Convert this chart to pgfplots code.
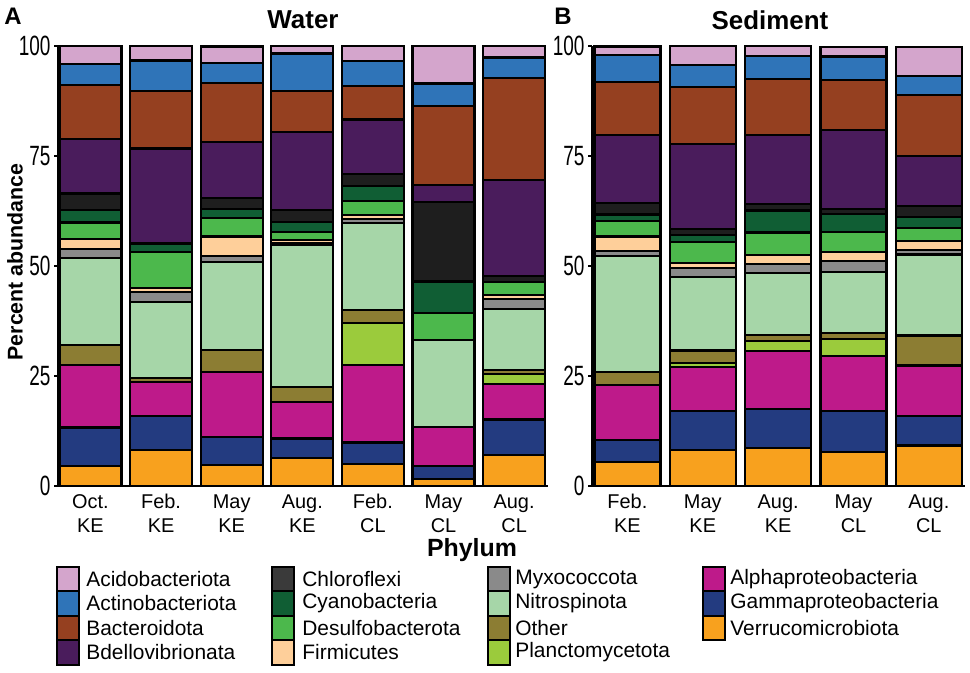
\documentclass[border=0pt]{standalone}
\usepackage{pgfplots}
\pgfplotsset{compat=1.18}
\usepackage{pgfplotstable}
\usepackage{graphicx}
\usepackage{fontspec}
\setmainfont{Liberation Sans}

% phylum colours
\definecolor{cAcido}{HTML}{D4A5CC}
\definecolor{cActino}{HTML}{2F74B8}
\definecolor{cBacter}{HTML}{954020}
\definecolor{cBdello}{HTML}{4A1C5C}
\definecolor{cChloro}{HTML}{1E1E1E}
\definecolor{cChloroKey}{HTML}{3A3A3A}
\definecolor{cCyano}{HTML}{105E34}
\definecolor{cDesulfo}{HTML}{4CB84C}
\definecolor{cFirm}{HTML}{FECF9A}
\definecolor{cMyxo}{HTML}{8A8A8A}
\definecolor{cNitro}{HTML}{A6D6A8}
\definecolor{cOther}{HTML}{8C7D33}
\definecolor{cPlanct}{HTML}{9BCB3C}
\definecolor{cAlpha}{HTML}{BE1A8A}
\definecolor{cGamma}{HTML}{233B80}
\definecolor{cVerr}{HTML}{F8A11E}

% percent abundance, bottom of the stack first
\pgfplotstableread{
x Verr Gamma Alpha Planct Other Nitro Myxo Firm Desulfo Cyano Chloro Bdello Bacter Actino Acido
0 4.5 8.8 14.2 0   4.5 19.8 2.1 2.2 3.8 2.8 3.8  12.4 12.2 4.8 4.1
1 8.2 7.7 7.8  0   0.8 17.3 2.3 0.9 8.1 2.0 0    21.6 13.0 7.0 3.3
2 4.8 6.3 14.9 0   4.9 20.1 1.3 4.4 4.2 2.1 2.4  12.7 13.5 4.6 3.7
3 6.3 4.5 8.3  0   3.4 32.2 0.6 0.6 1.8 2.3 2.8  17.6 9.3  8.6 1.7
4 5.0 4.9 17.6 9.6 2.9 19.7 0.9 1.0 3.2 3.3 2.9  12.3 7.6  5.7 3.4
5 1.6 3.0 8.9  0   0   19.7 0   0   6.1 7.2 18.0 3.9  17.9 5.2 8.5
6 7.0 8.1 8.0  2.3 1.0 13.8 2.3 1.0 2.9 0   1.3  21.8 23.3 4.6 2.6
}\water

\pgfplotstableread{
x Verr Gamma Alpha Planct Other Nitro Myxo Firm Desulfo Cyano Chloro Bdello Bacter Actino Acido
0 5.4 5.1 12.5 0   3.0 26.3 1.1 3.3 3.6 1.4 2.7 15.3 12.1 6.1 2.0
1 8.2 8.9 9.9  0.9 2.9 16.7 2.0 1.1 4.9 1.5 1.5 19.2 12.9 5.1 4.3
2 8.6 8.9 13.1 2.4 1.4 14.0 2.1 2.0 5.1 5.0 1.5 15.7 12.7 5.3 2.2
3 7.8 9.3 12.5 3.8 1.4 13.9 2.5 1.9 4.7 4.0 1.1 18.0 11.4 5.3 2.2
4 9.2 6.8 11.4 0   6.8 18.4 1.1 1.9 3.0 2.6 2.5 11.3 13.9 4.2 6.7
}\sediment

\pgfplotsset{
  abund/.style={
    ybar stacked, scale only axis, anchor=south west,
    height=220bp, ymin=0, ymax=100, ytick={0,25,50,75,100},
    axis lines*=left, axis line style={line width=1bp},
    tick align=outside, major tick length=2bp,
    xtick style={draw=none}, ytick style={line width=1bp, black},
    yticklabel={\scalebox{0.68}[1]{\pgfmathprintnumber{\tick}}},
    yticklabel style={font=\fontsize{14}{14}\selectfont, inner sep=0pt, xshift=-1.6bp},
    xticklabel style={font=\fontsize{10}{12}\selectfont, align=center, inner sep=0pt, yshift=-2bp},
    /pgf/number format/assume math mode=true,
    clip=false,
    every axis plot/.append style={draw=black, line width=1.1bp},
  },
}

\begin{document}
\begin{tikzpicture}
\path[use as bounding box] (0,0) rectangle (485bp,-336.5bp);

\begin{axis}[abund, at={(29bp,-243bp)}, width=245bp,
  xmin=-0.46, xmax=6.48, bar width=31bp, xtick={0,...,6},
  xticklabels={{Oct.\\KE},{Feb.\\KE},{May\\KE},{Aug.\\KE},{Feb.\\CL},{May\\CL},{Aug.\\CL}}]
\pgfplotsinvokeforeach{Verr,Gamma,Alpha,Planct,Other,Nitro,Myxo,Firm,Desulfo,Cyano,Chloro,Bdello,Bacter,Actino,Acido}{
  \addplot[fill=c#1] table[x=x, y=#1] {\water};
}
\end{axis}

\begin{axis}[abund, at={(296bp,-243bp)}, width=186.5bp,
  xmin=-0.47, xmax=4.48, bar width=33bp, xtick={0,...,4},
  xticklabels={{Feb.\\KE},{May\\KE},{Aug.\\KE},{May\\CL},{Aug.\\CL}}]
\pgfplotsinvokeforeach{Verr,Gamma,Alpha,Planct,Other,Nitro,Myxo,Firm,Desulfo,Cyano,Chloro,Bdello,Bacter,Actino,Acido}{
  \addplot[fill=c#1] table[x=x, y=#1] {\sediment};
}
\end{axis}

% texts and legend, in reference pixels (y downwards)
\begin{scope}[x=0.5bp, y=-0.5bp]
\node[font=\fontsize{12}{12}\selectfont\bfseries] at (13,16) {A};
\node[font=\fontsize{12}{12}\selectfont\bfseries] at (563,16) {B};
\node[font=\fontsize{13}{13}\selectfont\bfseries] at (303,20) {Water};
\node[font=\fontsize{13}{13}\selectfont\bfseries] at (770,20) {Sediment};
\node[font=\fontsize{10.7}{10.7}\selectfont\bfseries, rotate=90] at (15,262) {Percent abundance};
\node[font=\fontsize{12.5}{12.5}\selectfont\bfseries] at (472,550) {Phylum};

\foreach \col/\sx/\tx/\names in {
  0/57/86/{Acido/Acidobacteriota,Actino/Actinobacteriota,Bacter/Bacteroidota,Bdello/Bdellovibrionata},
  1/272/302/{ChloroKey/Chloroflexi,Cyano/Cyanobacteria,Desulfo/Desulfobacterota,Firm/Firmicutes},
  2/488/515/{Myxo/Myxococcota,Nitro/Nitrospinota,Other/Other,Planct/Planctomycetota},
  3/703/730/{Alpha/Alphaproteobacteria,Gamma/Gammaproteobacteria,Verr/Verrucomicrobiota}}{
  \foreach \c/\t [count=\i from 0] in \names {
    \filldraw[fill=c\c, draw=black, line width=1bp]
      (\sx,{567+24.4*\i}) rectangle ({\sx+22},{567+24.4*(\i+1)});
    \node[anchor=west, inner sep=0pt, font=\fontsize{10.5}{10.5}\selectfont]
      at (\tx,{579+24.4*\i}) {\t};
  }
}
\end{scope}
\end{tikzpicture}
\end{document}
